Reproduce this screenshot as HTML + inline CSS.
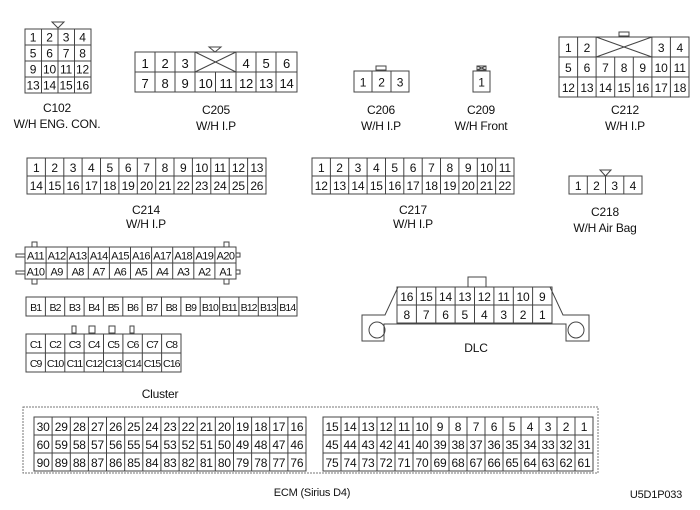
<!DOCTYPE html>
<html><head><meta charset="utf-8"><style>
html,body{margin:0;padding:0;background:#fff}
svg{display:block}
text{font-family:"Liberation Sans",sans-serif;font-size:12px;fill:#111;text-anchor:middle;letter-spacing:-0.2px}
.n text{font-size:10.5px !important;letter-spacing:-0.9px}
.a text{letter-spacing:-0.6px}
rect,line,path,circle,polygon{fill:none;stroke:#444;stroke-width:1}
</style></head><body>
<svg width="700" height="510" viewBox="0 0 700 510" xmlns="http://www.w3.org/2000/svg">
<!-- C102 -->
<rect x="25" y="29" width="66" height="64"/>
<line x1="41.5" y1="29" x2="41.5" y2="93"/><line x1="58" y1="29" x2="58" y2="93"/><line x1="74.5" y1="29" x2="74.5" y2="93"/>
<line x1="25" y1="45" x2="91" y2="45"/><line x1="25" y1="61" x2="91" y2="61"/><line x1="25" y1="77" x2="91" y2="77"/>
<polygon points="52,22 64,22 58,28"/>
<text x="33" y="41.5">1</text><text x="49.5" y="41.5">2</text><text x="66" y="41.5">3</text><text x="82.5" y="41.5">4</text>
<text x="33" y="57.5">5</text><text x="49.5" y="57.5">6</text><text x="66" y="57.5">7</text><text x="82.5" y="57.5">8</text>
<text x="33" y="73.5">9</text><text x="49.5" y="73.5">10</text><text x="66" y="73.5">11</text><text x="82.5" y="73.5">12</text>
<text x="33" y="89.5">13</text><text x="49.5" y="89.5">14</text><text x="66" y="89.5">15</text><text x="82.5" y="89.5">16</text>
<text x="57" y="112">C102</text><text x="57" y="128">W/H ENG. CON.</text>
<!-- C205 -->
<rect x="135" y="52" width="162" height="40"/>
<line x1="135" y1="72" x2="297" y2="72"/>
<line x1="155" y1="52" x2="155" y2="92"/><line x1="175" y1="52" x2="175" y2="92"/><line x1="195" y1="52" x2="195" y2="92"/><line x1="215.5" y1="72" x2="215.5" y2="92"/><line x1="236" y1="52" x2="236" y2="92"/><line x1="256" y1="52" x2="256" y2="92"/><line x1="276" y1="52" x2="276" y2="92"/>
<line x1="195" y1="52" x2="236" y2="72"/><line x1="195" y1="72" x2="236" y2="52"/>
<polygon points="209,47 221,47 215,52"/>
<text x="145" y="68" style="font-size:13px">1</text><text x="165" y="68" style="font-size:13px">2</text><text x="185" y="68" style="font-size:13px">3</text><text x="246" y="68" style="font-size:13px">4</text><text x="266" y="68" style="font-size:13px">5</text><text x="286.5" y="68" style="font-size:13px">6</text>
<text x="145" y="88" style="font-size:13px">7</text><text x="165" y="88" style="font-size:13px">8</text><text x="185" y="88" style="font-size:13px">9</text><text x="205.5" y="88" style="font-size:13px">10</text><text x="226" y="88" style="font-size:13px">11</text><text x="246" y="88" style="font-size:13px">12</text><text x="266" y="88" style="font-size:13px">13</text><text x="286.5" y="88" style="font-size:13px">14</text>
<text x="216" y="114">C205</text><text x="216" y="130">W/H I.P</text>
<!-- C206 -->
<rect x="354" y="71" width="55" height="21"/><line x1="372" y1="71" x2="372" y2="92"/><line x1="391" y1="71" x2="391" y2="92"/>
<rect x="376" y="66" width="10" height="4"/>
<text x="363" y="86.5">1</text><text x="381.5" y="86.5">2</text><text x="400" y="86.5">3</text>
<text x="381" y="114">C206</text><text x="381" y="130">W/H I.P</text>
<!-- C209 -->
<rect x="473" y="71" width="17" height="21"/><rect x="477" y="66" width="9" height="4"/>
<line x1="477" y1="66" x2="486" y2="70"/><line x1="477" y1="70" x2="486" y2="66"/>
<text x="481.5" y="86.5">1</text>
<text x="481" y="114">C209</text><text x="481" y="130">W/H Front</text>
<!-- C212 -->
<rect x="559" y="37" width="130" height="60"/>
<line x1="559" y1="57" x2="689" y2="57"/><line x1="559" y1="77" x2="689" y2="77"/>
<line x1="577.6" y1="37" x2="577.6" y2="97"/><line x1="596.1" y1="37" x2="596.1" y2="97"/><line x1="614.7" y1="57" x2="614.7" y2="97"/><line x1="633.3" y1="57" x2="633.3" y2="97"/><line x1="651.9" y1="37" x2="651.9" y2="97"/><line x1="670.4" y1="37" x2="670.4" y2="97"/>
<line x1="596.1" y1="37" x2="651.9" y2="57"/><line x1="596.1" y1="57" x2="651.9" y2="37"/>
<rect x="619" y="32" width="10" height="4"/>
<text x="568.3" y="52">1</text><text x="586.9" y="52">2</text><text x="661.1" y="52">3</text><text x="679.7" y="52">4</text>
<text x="568.3" y="72">5</text><text x="586.9" y="72">6</text><text x="605.4" y="72">7</text><text x="624" y="72">8</text><text x="642.6" y="72">9</text><text x="661.1" y="72">10</text><text x="679.7" y="72">11</text>
<text x="568.3" y="92">12</text><text x="586.9" y="92">13</text><text x="605.4" y="92">14</text><text x="624" y="92">15</text><text x="642.6" y="92">16</text><text x="661.1" y="92">17</text><text x="679.7" y="92">18</text>
<text x="625" y="114">C212</text><text x="625" y="130">W/H I.P</text>
<!-- C214 -->
<rect x="27" y="158" width="239" height="36"/><line x1="27" y1="176" x2="266" y2="176"/>
<g><line x1="45.4" y1="158" x2="45.4" y2="194"/><line x1="63.8" y1="158" x2="63.8" y2="194"/><line x1="82.1" y1="158" x2="82.1" y2="194"/><line x1="100.5" y1="158" x2="100.5" y2="194"/><line x1="118.9" y1="158" x2="118.9" y2="194"/><line x1="137.3" y1="158" x2="137.3" y2="194"/><line x1="155.7" y1="158" x2="155.7" y2="194"/><line x1="174" y1="158" x2="174" y2="194"/><line x1="192.4" y1="158" x2="192.4" y2="194"/><line x1="210.8" y1="158" x2="210.8" y2="194"/><line x1="229.2" y1="158" x2="229.2" y2="194"/><line x1="247.6" y1="158" x2="247.6" y2="194"/></g>
<text x="36.2" y="172">1</text><text x="54.6" y="172">2</text><text x="73" y="172">3</text><text x="91.3" y="172">4</text><text x="109.7" y="172">5</text><text x="128.1" y="172">6</text><text x="146.5" y="172">7</text><text x="164.9" y="172">8</text><text x="183.2" y="172">9</text><text x="201.6" y="172">10</text><text x="220" y="172">11</text><text x="238.4" y="172">12</text><text x="256.8" y="172">13</text>
<text x="36.2" y="190">14</text><text x="54.6" y="190">15</text><text x="73" y="190">16</text><text x="91.3" y="190">17</text><text x="109.7" y="190">18</text><text x="128.1" y="190">19</text><text x="146.5" y="190">20</text><text x="164.9" y="190">21</text><text x="183.2" y="190">22</text><text x="201.6" y="190">23</text><text x="220" y="190">24</text><text x="238.4" y="190">25</text><text x="256.8" y="190">26</text>
<text x="146" y="214">C214</text><text x="146" y="228">W/H I.P</text>
<!-- C217 -->
<rect x="312" y="158" width="202" height="36"/><line x1="312" y1="176" x2="514" y2="176"/>
<g><line x1="330.4" y1="158" x2="330.4" y2="194"/><line x1="348.7" y1="158" x2="348.7" y2="194"/><line x1="367.1" y1="158" x2="367.1" y2="194"/><line x1="385.5" y1="158" x2="385.5" y2="194"/><line x1="403.8" y1="158" x2="403.8" y2="194"/><line x1="422.2" y1="158" x2="422.2" y2="194"/><line x1="440.5" y1="158" x2="440.5" y2="194"/><line x1="458.9" y1="158" x2="458.9" y2="194"/><line x1="477.3" y1="158" x2="477.3" y2="194"/><line x1="495.6" y1="158" x2="495.6" y2="194"/></g>
<text x="321.2" y="172">1</text><text x="339.5" y="172">2</text><text x="357.9" y="172">3</text><text x="376.3" y="172">4</text><text x="394.6" y="172">5</text><text x="413" y="172">6</text><text x="431.4" y="172">7</text><text x="449.7" y="172">8</text><text x="468.1" y="172">9</text><text x="486.5" y="172">10</text><text x="504.8" y="172">11</text>
<text x="321.2" y="190">12</text><text x="339.5" y="190">13</text><text x="357.9" y="190">14</text><text x="376.3" y="190">15</text><text x="394.6" y="190">16</text><text x="413" y="190">17</text><text x="431.4" y="190">18</text><text x="449.7" y="190">19</text><text x="468.1" y="190">20</text><text x="486.5" y="190">21</text><text x="504.8" y="190">22</text>
<text x="413" y="214">C217</text><text x="413" y="228">W/H I.P</text>
<!-- C218 -->
<rect x="569" y="176" width="73" height="18"/><line x1="587.3" y1="176" x2="587.3" y2="194"/><line x1="605.5" y1="176" x2="605.5" y2="194"/><line x1="623.8" y1="176" x2="623.8" y2="194"/>
<polygon points="600,170 611,170 605.5,176"/>
<text x="578.1" y="190">1</text><text x="596.4" y="190">2</text><text x="614.6" y="190">3</text><text x="632.9" y="190">4</text>
<text x="605" y="216">C218</text><text x="605" y="232">W/H Air Bag</text>
<!-- Cluster A -->
<rect x="25" y="247" width="211" height="32"/><line x1="25" y1="263" x2="236" y2="263"/>
<g><line x1="46.1" y1="247" x2="46.1" y2="279"/><line x1="67.2" y1="247" x2="67.2" y2="279"/><line x1="88.3" y1="247" x2="88.3" y2="279"/><line x1="109.4" y1="247" x2="109.4" y2="279"/><line x1="130.5" y1="247" x2="130.5" y2="279"/><line x1="151.6" y1="247" x2="151.6" y2="279"/><line x1="172.7" y1="247" x2="172.7" y2="279"/><line x1="193.8" y1="247" x2="193.8" y2="279"/><line x1="214.9" y1="247" x2="214.9" y2="279"/></g>
<rect x="32" y="242" width="5" height="5"/><rect x="224" y="242" width="5" height="5"/><rect x="32" y="279" width="5" height="5"/><rect x="224" y="279" width="5" height="5"/>
<rect x="16" y="254" width="9" height="3"/><rect x="16" y="271" width="9" height="3"/><rect x="236" y="253" width="4" height="4"/><rect x="236" y="270" width="4" height="4"/>
<g class="a">
<text x="35.5" y="259.5" style="font-size:11px">A11</text><text x="56.6" y="259.5" style="font-size:11px">A12</text><text x="77.7" y="259.5" style="font-size:11px">A13</text><text x="98.8" y="259.5" style="font-size:11px">A14</text><text x="120" y="259.5" style="font-size:11px">A15</text><text x="141" y="259.5" style="font-size:11px">A16</text><text x="162.2" y="259.5" style="font-size:11px">A17</text><text x="183.2" y="259.5" style="font-size:11px">A18</text><text x="204.4" y="259.5" style="font-size:11px">A19</text><text x="225.5" y="259.5" style="font-size:11px">A20</text>
<text x="35.5" y="275.5" style="font-size:11px">A10</text><text x="56.6" y="275.5" style="font-size:11px">A9</text><text x="77.7" y="275.5" style="font-size:11px">A8</text><text x="98.8" y="275.5" style="font-size:11px">A7</text><text x="120" y="275.5" style="font-size:11px">A6</text><text x="141" y="275.5" style="font-size:11px">A5</text><text x="162.2" y="275.5" style="font-size:11px">A4</text><text x="183.2" y="275.5" style="font-size:11px">A3</text><text x="204.4" y="275.5" style="font-size:11px">A2</text><text x="225.5" y="275.5" style="font-size:11px">A1</text>
</g>
<!-- B -->
<rect x="26" y="297" width="271" height="19"/>
<g><line x1="45.4" y1="297" x2="45.4" y2="316"/><line x1="64.7" y1="297" x2="64.7" y2="316"/><line x1="84.1" y1="297" x2="84.1" y2="316"/><line x1="103.4" y1="297" x2="103.4" y2="316"/><line x1="122.8" y1="297" x2="122.8" y2="316"/><line x1="142.1" y1="297" x2="142.1" y2="316"/><line x1="161.5" y1="297" x2="161.5" y2="316"/><line x1="180.9" y1="297" x2="180.9" y2="316"/><line x1="200.2" y1="297" x2="200.2" y2="316"/><line x1="219.6" y1="297" x2="219.6" y2="316"/><line x1="238.9" y1="297" x2="238.9" y2="316"/><line x1="258.3" y1="297" x2="258.3" y2="316"/><line x1="277.6" y1="297" x2="277.6" y2="316"/></g>
<g class="n">
<text x="35.7" y="311">B1</text><text x="55" y="311">B2</text><text x="74.4" y="311">B3</text><text x="93.8" y="311">B4</text><text x="113.1" y="311">B5</text><text x="132.5" y="311">B6</text><text x="151.8" y="311">B7</text><text x="171.2" y="311">B8</text><text x="190.5" y="311">B9</text><text x="209.9" y="311">B10</text><text x="229.2" y="311">B11</text><text x="248.6" y="311">B12</text><text x="268" y="311">B13</text><text x="287.3" y="311">B14</text>
</g>
<!-- C -->
<rect x="26" y="334" width="155" height="38"/><line x1="26" y1="353" x2="181" y2="353"/>
<g><line x1="45.4" y1="334" x2="45.4" y2="372"/><line x1="64.8" y1="334" x2="64.8" y2="372"/><line x1="84.1" y1="334" x2="84.1" y2="372"/><line x1="103.5" y1="334" x2="103.5" y2="372"/><line x1="122.9" y1="334" x2="122.9" y2="372"/><line x1="142.3" y1="334" x2="142.3" y2="372"/><line x1="161.6" y1="334" x2="161.6" y2="372"/></g>
<rect x="72" y="326" width="4" height="7"/><rect x="89" y="326" width="6" height="7"/><rect x="109" y="326" width="6" height="7"/><rect x="130" y="326" width="4" height="7"/>
<g class="n">
<text x="35.7" y="348">C1</text><text x="55.1" y="348">C2</text><text x="74.5" y="348">C3</text><text x="93.8" y="348">C4</text><text x="113.2" y="348">C5</text><text x="132.6" y="348">C6</text><text x="152" y="348">C7</text><text x="171.3" y="348">C8</text>
<text x="35.7" y="367">C9</text><text x="55.1" y="367">C10</text><text x="74.5" y="367">C11</text><text x="93.8" y="367">C12</text><text x="113.2" y="367">C13</text><text x="132.6" y="367">C14</text><text x="152" y="367">C15</text><text x="171.3" y="367">C16</text>
</g>
<text x="160" y="398">Cluster</text>
<!-- DLC -->
<path d="M398,287 L550,287 L563,315 L589,315 L589,341 L566,341 L566,324 L384,324 L384,341 L362,341 L362,315 L385,315 Z"/>
<circle cx="377" cy="330" r="8"/><circle cx="576" cy="330" r="8"/>
<rect x="468" y="277" width="18" height="10"/>
<rect x="397" y="287" width="155" height="36"/><line x1="397" y1="305" x2="552" y2="305"/>
<g><line x1="416.4" y1="287" x2="416.4" y2="323"/><line x1="435.8" y1="287" x2="435.8" y2="323"/><line x1="455.1" y1="287" x2="455.1" y2="323"/><line x1="474.5" y1="287" x2="474.5" y2="323"/><line x1="493.9" y1="287" x2="493.9" y2="323"/><line x1="513.3" y1="287" x2="513.3" y2="323"/><line x1="532.6" y1="287" x2="532.6" y2="323"/></g>
<text x="406.7" y="301">16</text><text x="426.1" y="301">15</text><text x="445.5" y="301">14</text><text x="464.8" y="301">13</text><text x="484.2" y="301">12</text><text x="503.6" y="301">11</text><text x="523" y="301">10</text><text x="542.3" y="301">9</text>
<text x="406.7" y="319">8</text><text x="426.1" y="319">7</text><text x="445.5" y="319">6</text><text x="464.8" y="319">5</text><text x="484.2" y="319">4</text><text x="503.6" y="319">3</text><text x="523" y="319">2</text><text x="542.3" y="319">1</text>
<text x="476" y="352">DLC</text>
<!-- ECM -->
<rect x="23" y="407" width="575" height="66" style="stroke:#777;stroke-dasharray:2 1"/>
<rect x="34" y="417" width="272" height="54"/><line x1="34" y1="435" x2="306" y2="435"/><line x1="34" y1="453" x2="306" y2="453"/>
<g><line x1="52.1" y1="417" x2="52.1" y2="471"/><line x1="70.3" y1="417" x2="70.3" y2="471"/><line x1="88.4" y1="417" x2="88.4" y2="471"/><line x1="106.5" y1="417" x2="106.5" y2="471"/><line x1="124.7" y1="417" x2="124.7" y2="471"/><line x1="142.8" y1="417" x2="142.8" y2="471"/><line x1="160.9" y1="417" x2="160.9" y2="471"/><line x1="179.1" y1="417" x2="179.1" y2="471"/><line x1="197.2" y1="417" x2="197.2" y2="471"/><line x1="215.3" y1="417" x2="215.3" y2="471"/><line x1="233.5" y1="417" x2="233.5" y2="471"/><line x1="251.6" y1="417" x2="251.6" y2="471"/><line x1="269.7" y1="417" x2="269.7" y2="471"/><line x1="287.9" y1="417" x2="287.9" y2="471"/></g>
<text x="43.1" y="431">30</text><text x="61.2" y="431">29</text><text x="79.3" y="431">28</text><text x="97.5" y="431">27</text><text x="115.6" y="431">26</text><text x="133.7" y="431">25</text><text x="151.9" y="431">24</text><text x="170" y="431">23</text><text x="188.1" y="431">22</text><text x="206.3" y="431">21</text><text x="224.4" y="431">20</text><text x="242.5" y="431">19</text><text x="260.7" y="431">18</text><text x="278.8" y="431">17</text><text x="296.9" y="431">16</text>
<text x="43.1" y="449">60</text><text x="61.2" y="449">59</text><text x="79.3" y="449">58</text><text x="97.5" y="449">57</text><text x="115.6" y="449">56</text><text x="133.7" y="449">55</text><text x="151.9" y="449">54</text><text x="170" y="449">53</text><text x="188.1" y="449">52</text><text x="206.3" y="449">51</text><text x="224.4" y="449">50</text><text x="242.5" y="449">49</text><text x="260.7" y="449">48</text><text x="278.8" y="449">47</text><text x="296.9" y="449">46</text>
<text x="43.1" y="467">90</text><text x="61.2" y="467">89</text><text x="79.3" y="467">88</text><text x="97.5" y="467">87</text><text x="115.6" y="467">86</text><text x="133.7" y="467">85</text><text x="151.9" y="467">84</text><text x="170" y="467">83</text><text x="188.1" y="467">82</text><text x="206.3" y="467">81</text><text x="224.4" y="467">80</text><text x="242.5" y="467">79</text><text x="260.7" y="467">78</text><text x="278.8" y="467">77</text><text x="296.9" y="467">76</text>
<rect x="323" y="417" width="270" height="54"/><line x1="323" y1="435" x2="593" y2="435"/><line x1="323" y1="453" x2="593" y2="453"/>
<g><line x1="341" y1="417" x2="341" y2="471"/><line x1="359" y1="417" x2="359" y2="471"/><line x1="377" y1="417" x2="377" y2="471"/><line x1="395" y1="417" x2="395" y2="471"/><line x1="413" y1="417" x2="413" y2="471"/><line x1="431" y1="417" x2="431" y2="471"/><line x1="449" y1="417" x2="449" y2="471"/><line x1="467" y1="417" x2="467" y2="471"/><line x1="485" y1="417" x2="485" y2="471"/><line x1="503" y1="417" x2="503" y2="471"/><line x1="521" y1="417" x2="521" y2="471"/><line x1="539" y1="417" x2="539" y2="471"/><line x1="557" y1="417" x2="557" y2="471"/><line x1="575" y1="417" x2="575" y2="471"/></g>
<text x="332" y="431">15</text><text x="350" y="431">14</text><text x="368" y="431">13</text><text x="386" y="431">12</text><text x="404" y="431">11</text><text x="422" y="431">10</text><text x="440" y="431">9</text><text x="458" y="431">8</text><text x="476" y="431">7</text><text x="494" y="431">6</text><text x="512" y="431">5</text><text x="530" y="431">4</text><text x="548" y="431">3</text><text x="566" y="431">2</text><text x="584" y="431">1</text>
<text x="332" y="449">45</text><text x="350" y="449">44</text><text x="368" y="449">43</text><text x="386" y="449">42</text><text x="404" y="449">41</text><text x="422" y="449">40</text><text x="440" y="449">39</text><text x="458" y="449">38</text><text x="476" y="449">37</text><text x="494" y="449">36</text><text x="512" y="449">35</text><text x="530" y="449">34</text><text x="548" y="449">33</text><text x="566" y="449">32</text><text x="584" y="449">31</text>
<text x="332" y="467">75</text><text x="350" y="467">74</text><text x="368" y="467">73</text><text x="386" y="467">72</text><text x="404" y="467">71</text><text x="422" y="467">70</text><text x="440" y="467">69</text><text x="458" y="467">68</text><text x="476" y="467">67</text><text x="494" y="467">66</text><text x="512" y="467">65</text><text x="530" y="467">64</text><text x="548" y="467">63</text><text x="566" y="467">62</text><text x="584" y="467">61</text>
<text x="312" y="496" style="font-size:11px">ECM (Sirius D4)</text>
<text x="656" y="498" style="font-size:11px">U5D1P033</text>
</svg>
</body></html>
